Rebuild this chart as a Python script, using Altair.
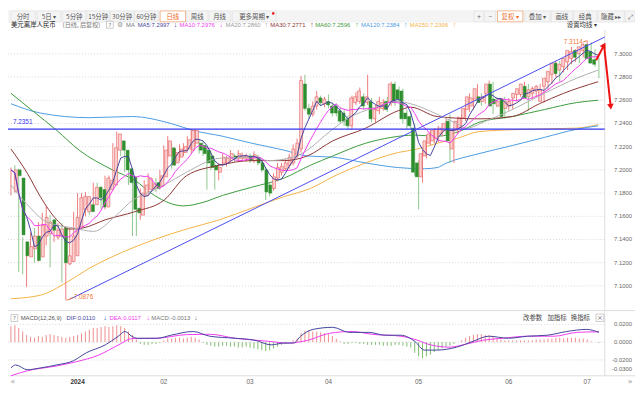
import altair as alt
import pandas as pd

# ---------------- data ----------------
opens = [7.181, 7.200, 7.193, 7.138, 7.125, 7.132, 7.143, 7.125, 7.143, 7.145,
         7.157, 7.142, 7.143, 7.150, 7.119, 7.121, 7.126, 7.151, 7.166, 7.164,
         7.170, 7.170, 7.185, 7.183, 7.168, 7.183, 7.187, 7.217, 7.225, 7.217,
         7.201, 7.194, 7.167, 7.161, 7.178, 7.183, 7.184, 7.189, 7.186, 7.194,
         7.212, 7.219, 7.206, 7.211, 7.215, 7.218, 7.217, 7.223, 7.223, 7.221,
         7.217, 7.212, 7.204, 7.198, 7.206, 7.206, 7.210, 7.212, 7.210, 7.210,
         7.210, 7.212, 7.208, 7.211, 7.206, 7.200, 7.187, 7.184, 7.193, 7.198,
         7.201, 7.204, 7.206, 7.212, 7.218, 7.274, 7.253, 7.248, 7.255, 7.262,
         7.257, 7.259, 7.255, 7.255, 7.251, 7.249, 7.244, 7.238, 7.258, 7.259,
         7.263, 7.258, 7.259, 7.244, 7.251, 7.253, 7.259, 7.258, 7.274, 7.269,
         7.268, 7.249, 7.246, 7.236, 7.206, 7.194, 7.212, 7.223, 7.225, 7.227,
         7.231, 7.234, 7.242, 7.218, 7.234, 7.236, 7.245, 7.252, 7.255, 7.261,
         7.263, 7.259, 7.266, 7.274, 7.261, 7.255, 7.261, 7.253, 7.255, 7.262,
         7.265, 7.265, 7.272, 7.263, 7.266, 7.268, 7.259, 7.272, 7.276, 7.282,
         7.292, 7.286, 7.289, 7.293, 7.296, 7.303, 7.300, 7.303, 7.308, 7.302,
         7.295]
highs = [7.202, 7.204, 7.201, 7.142, 7.138, 7.146, 7.150, 7.155, 7.163, 7.169,
         7.161, 7.152, 7.154, 7.154, 7.130, 7.150, 7.164, 7.180, 7.180, 7.181,
         7.174, 7.189, 7.189, 7.186, 7.195, 7.195, 7.223, 7.233, 7.227, 7.218,
         7.206, 7.198, 7.171, 7.184, 7.191, 7.197, 7.191, 7.193, 7.200, 7.221,
         7.229, 7.223, 7.218, 7.222, 7.223, 7.229, 7.235, 7.235, 7.227, 7.225,
         7.220, 7.217, 7.208, 7.206, 7.214, 7.212, 7.217, 7.214, 7.217, 7.215,
         7.214, 7.214, 7.216, 7.213, 7.209, 7.202, 7.189, 7.197, 7.206, 7.206,
         7.210, 7.214, 7.222, 7.227, 7.281, 7.282, 7.257, 7.259, 7.268, 7.264,
         7.263, 7.265, 7.258, 7.257, 7.254, 7.252, 7.247, 7.264, 7.267, 7.271,
         7.266, 7.282, 7.262, 7.256, 7.263, 7.261, 7.263, 7.276, 7.276, 7.272,
         7.270, 7.252, 7.251, 7.240, 7.208, 7.217, 7.229, 7.234, 7.236, 7.238,
         7.240, 7.244, 7.248, 7.237, 7.246, 7.248, 7.257, 7.266, 7.265, 7.274,
         7.266, 7.267, 7.277, 7.276, 7.263, 7.262, 7.263, 7.262, 7.263, 7.269,
         7.273, 7.276, 7.274, 7.272, 7.273, 7.274, 7.272, 7.281, 7.287, 7.294,
         7.294, 7.293, 7.298, 7.306, 7.304, 7.306, 7.309, 7.3114, 7.310, 7.304,
         7.297]
lows = [7.178, 7.191, 7.112, 7.110, 7.099, 7.130, 7.120, 7.121, 7.140, 7.135,
        7.116, 7.138, 7.140, 7.103, 7.0876, 7.118, 7.121, 7.149, 7.162, 7.160,
        7.161, 7.167, 7.174, 7.166, 7.166, 7.178, 7.184, 7.212, 7.212, 7.198,
        7.187, 7.143, 7.143, 7.157, 7.176, 7.180, 7.182, 7.181, 7.183, 7.191,
        7.210, 7.201, 7.204, 7.208, 7.212, 7.216, 7.214, 7.220, 7.214, 7.212,
        7.183, 7.200, 7.183, 7.191, 7.203, 7.203, 7.207, 7.207, 7.207, 7.207,
        7.207, 7.206, 7.206, 7.204, 7.198, 7.174, 7.177, 7.182, 7.190, 7.195,
        7.199, 7.201, 7.204, 7.210, 7.215, 7.251, 7.244, 7.246, 7.252, 7.255,
        7.254, 7.253, 7.246, 7.246, 7.240, 7.238, 7.235, 7.235, 7.256, 7.257,
        7.252, 7.256, 7.241, 7.241, 7.248, 7.251, 7.250, 7.255, 7.255, 7.258,
        7.240, 7.235, 7.235, 7.195, 7.166, 7.189, 7.210, 7.221, 7.223, 7.224,
        7.229, 7.231, 7.206, 7.206, 7.231, 7.234, 7.242, 7.250, 7.252, 7.258,
        7.255, 7.257, 7.263, 7.248, 7.254, 7.252, 7.244, 7.251, 7.252, 7.259,
        7.263, 7.263, 7.251, 7.261, 7.263, 7.265, 7.258, 7.269, 7.274, 7.280,
        7.276, 7.284, 7.286, 7.291, 7.293, 7.292, 7.297, 7.301, 7.293, 7.289,
        7.279]
closes = [7.200, 7.195, 7.144, 7.126, 7.134, 7.143, 7.122, 7.152, 7.159, 7.155,
          7.148, 7.148, 7.149, 7.120, 7.126, 7.143, 7.159, 7.176, 7.177, 7.177,
          7.164, 7.185, 7.176, 7.168, 7.193, 7.191, 7.219, 7.231, 7.217, 7.200,
          7.189, 7.166, 7.163, 7.180, 7.187, 7.193, 7.188, 7.184, 7.195, 7.217,
          7.225, 7.204, 7.215, 7.218, 7.220, 7.226, 7.234, 7.234, 7.217, 7.214,
          7.206, 7.202, 7.200, 7.202, 7.211, 7.210, 7.214, 7.210, 7.214, 7.212,
          7.212, 7.208, 7.213, 7.206, 7.200, 7.181, 7.180, 7.194, 7.202, 7.203,
          7.206, 7.211, 7.218, 7.223, 7.277, 7.253, 7.248, 7.255, 7.263, 7.258,
          7.261, 7.256, 7.249, 7.249, 7.242, 7.242, 7.238, 7.262, 7.263, 7.268,
          7.255, 7.263, 7.244, 7.252, 7.259, 7.258, 7.252, 7.274, 7.258, 7.261,
          7.244, 7.244, 7.238, 7.198, 7.194, 7.214, 7.225, 7.231, 7.234, 7.235,
          7.236, 7.240, 7.225, 7.234, 7.242, 7.245, 7.253, 7.263, 7.262, 7.270,
          7.258, 7.263, 7.274, 7.255, 7.257, 7.259, 7.246, 7.259, 7.259, 7.266,
          7.270, 7.274, 7.262, 7.269, 7.270, 7.272, 7.269, 7.279, 7.285, 7.292,
          7.283, 7.291, 7.296, 7.303, 7.302, 7.297, 7.306, 7.308, 7.296, 7.292,
          7.291]

month_labels = ["2024", "02", "03", "04", "05", "06", "07"]
month_start_idx = [17, 39, 61, 81, 104, 127, 147]

ma20_idx = [0, 4.2, 9.2, 15.9, 21.1, 26.6, 31.1, 34.8, 39.1, 44.8, 53.2, 61.4, 65.7, 72.1,
            75.6, 80.6, 86.3, 92.0, 98.8, 102.0, 108.7, 113.7, 116.2, 121.1, 127.9, 136.1, 144.3, 149.8]
ma20_val = [7.187, 7.170, 7.155, 7.150, 7.147, 7.160, 7.174, 7.180, 7.187, 7.198, 7.210, 7.211, 7.208, 7.211,
            7.217, 7.231, 7.245, 7.253, 7.259, 7.257, 7.248, 7.240, 7.236, 7.242, 7.252, 7.266, 7.279, 7.286]
ma30_idx = [0, 4.2, 7.5, 11.7, 14.9, 18.4, 24.1, 31.6, 39.1, 44.8, 53.2, 61.4, 69.7, 75.6,
            82.1, 90.5, 98.8, 102.0, 108.7, 119.4, 127.9, 134.8, 141.0, 149.8]
ma30_val = [7.218, 7.197, 7.177, 7.157, 7.149, 7.150, 7.157, 7.164, 7.174, 7.195, 7.204, 7.208, 7.208, 7.212,
            7.225, 7.236, 7.251, 7.254, 7.246, 7.244, 7.246, 7.257, 7.266, 7.276]
ma60_idx = [0, 5.5, 11.7, 17.4, 25.9, 31.6, 36.6, 44.0, 49.0, 54.0, 61.4, 69.7, 76.4, 82.1,
            90.5, 97.0, 103.0, 108.7, 115.0, 119.4, 127.9, 136.1, 144.3, 149.8]
ma60_val = [7.266, 7.251, 7.234, 7.217, 7.200, 7.191, 7.178, 7.169, 7.172, 7.178, 7.185, 7.193, 7.204, 7.212,
            7.223, 7.228, 7.230, 7.229, 7.234, 7.241, 7.246, 7.252, 7.258, 7.260]
ma120_idx = [0, 7.5, 19.9, 30.8, 40.8, 46.5, 54.0, 61.4, 69.7, 75.6, 82.1, 90.5, 98.8, 105.5,
             108.7, 111.2, 119.4, 127.9, 136.1, 144.3, 149.8]
ma120_val = [7.257, 7.249, 7.245, 7.246, 7.240, 7.234, 7.229, 7.223, 7.217, 7.212, 7.211, 7.206, 7.202, 7.201,
             7.202, 7.206, 7.214, 7.221, 7.228, 7.235, 7.238]
ma250_idx = [0, 7.5, 14.2, 19.9, 28.4, 36.6, 44.8, 53.2, 61.4, 69.7, 76.4, 82.1, 90.5, 98.8,
             103.7, 108.7, 113.7, 119.4, 131.8, 144.3, 149.8]
ma250_val = [7.089, 7.092, 7.103, 7.115, 7.129, 7.140, 7.149, 7.157, 7.167, 7.177, 7.184, 7.194, 7.206, 7.215,
             7.218, 7.223, 7.227, 7.233, 7.235, 7.236, 7.239]

dif_idx = [0, 1.2, 4.2, 7.5, 11.7, 15.9, 19.2, 24.1, 27.4, 29.1, 30.8, 32.3, 37.3, 40.8, 46.5, 50.7,
           57.2, 62.2, 66.4, 69.7, 72.1, 73.9, 77.1, 82.1, 86.3, 91.3, 95.5, 99.5, 103.0, 105.5,
           108.7, 113.7, 117.9, 121.9, 126.9, 131.8, 136.8, 141.8, 146.8, 150.0]
dif_val = [-0.0289, -0.0256, -0.031, -0.029, -0.0256, -0.021, -0.012, -0.003, 0.0067, 0.012, 0.0067,
           0.0044, 0.0044, 0.0078, 0.012, 0.0067, 0.0044, 0.0022, -0.003, -0.001, -0.001, 0.0067,
           0.0144, 0.0167, 0.011, 0.011, 0.0078, 0.0078, 0.001, -0.0089, -0.0089, -0.0056, 0.001,
           0.0067, 0.0044, 0.0067, 0.0078, 0.012, 0.0144, 0.011]
dea_idx = [0, 4.2, 11.7, 16.7, 22.4, 27.9, 30.8, 37.3, 44.8, 50.7, 57.2, 65.7, 70.6, 75.6, 81.3,
           87.1, 92.0, 99.5, 103.7, 107.0, 111.9, 115.4, 120.4, 125.4, 131.8, 138.6, 144.3, 150.0]
dea_val = [-0.0378, -0.0322, -0.0267, -0.022, -0.0145, -0.002, 0.004, 0.0044, 0.0085, 0.0089, 0.0044,
           0.001, -0.001, 0.002, 0.010, 0.012, 0.0089, 0.0067, 0.0022, -0.003, -0.0056, -0.003,
           0.0022, 0.0044, 0.0067, 0.0067, 0.011, 0.0117]
macd_hist = [0.018, 0.019, 0.016, 0.012, 0.008,
             0.006, 0.005, 0.007, 0.006, 0.008, 0.009, 0.008, 0.007, 0.006, 0.005, 0.006, 0.007, 0.008,
             0.010, 0.012,
             0.014, 0.016, 0.016, 0.017, 0.018, 0.017, 0.018, 0.019, 0.018, 0.016,
             0.012, 0.008, 0.003,
             -0.002, -0.003, -0.003, -0.002, -0.002, -0.001,
             0.002, 0.004, 0.004, 0.005, 0.005, 0.004, 0.005, 0.006, 0.005, 0.003,
             -0.001, -0.003, -0.004, -0.005, -0.005, -0.004, -0.004, -0.005, -0.005, -0.006, -0.006,
             -0.005, -0.006, -0.007, -0.008, -0.009, -0.010,
             -0.009, -0.007, -0.005, -0.003, -0.002, 0.000, 0.002,
             0.004, 0.010, 0.013, 0.013, 0.012, 0.012, 0.011,
             0.010, 0.009, 0.007, 0.004, 0.001,
             -0.002, -0.002, -0.001, -0.001, -0.002, -0.002, -0.003, -0.003, -0.003,
             -0.003, -0.004, -0.004, -0.004, -0.003, -0.003, -0.004, -0.005, -0.006,
             -0.012, -0.016, -0.018, -0.016, -0.014, -0.011,
             -0.009, -0.007, -0.005, -0.004,
             -0.002, 0.000, 0.002,
             0.005, 0.007, 0.008, 0.009, 0.009, 0.008, 0.008, 0.007,
             0.004, 0.003, 0.002, 0.002, 0.002, 0.002, 0.002, 0.002,
             0.002, 0.002, 0.003, 0.003, 0.003, 0.004,
             0.004, 0.005, 0.005, 0.004, 0.005, 0.005, 0.005, 0.004, 0.004, 0.003,
             0.001, 0.000, -0.001]

price_ticks = [7.30, 7.28, 7.26, 7.24, 7.22, 7.20, 7.18, 7.16, 7.14, 7.12, 7.10]
macd_ticks = [0.02, 0.0, -0.02, -0.03]
macd_grid = [0.02, 0.0, -0.02]
level_value = 7.2351
trend_idx = [15.0, 151.5]
trend_val = [7.0885, 7.3145]
arrow_up_idx = [149.3, 151.3]
arrow_up_val = [7.2945, 7.3075]
arrow_down_idx = [151.3, 153.0]
arrow_down_val = [7.3075, 7.2545]

ma_header = [("MA5:7.2997", "↓"), ("MA10:7.2976", "↓"), ("MA20:7.2860", "↑"), ("MA30:7.2771", "↑"),
             ("MA60:7.2596", "↑"), ("MA120:7.2384", "↑"), ("MA250:7.2396", "↑")]
macd_header = [("DIF:0.0110", "↓"), ("DEA:0.0117", "↓"), ("MACD:-0.0013", "↓")]

# ---------------- styles / layout ----------------
W, H = 635, 386
KX = W / 643.0
CJK = "Noto Sans CJK SC"
SANS = "Liberation Sans"
C_MA5, C_MA10, C_MA20, C_MA30 = "#44449c", "#f03cf0", "#b0b0b0", "#8e3535"
C_MA60, C_MA120, C_MA250 = "#3c9a3c", "#4b9be3", "#f5b246"
UP_FILL, UP_LINE, UP_WICK = "#fbd0d0", "#e35b5b", "#ee7b7b"
DN_FILL, DN_WICK = "#2f8f2f", "#8cc78c"


def px(x):
    return round(x * KX, 2)


XS = alt.Scale(domain=[-0.746, 151.49], range=[0, px(612)], nice=False, zero=False)
PS = alt.Scale(domain=[7.087, 7.3187], range=[294.3, 22.0], nice=False, zero=False)
MS = alt.Scale(domain=[-0.0378, 0.0344], range=[370.0, 305.0], nice=False, zero=False)


def xi(f="i"):
    return alt.X(f"{f}:Q", scale=XS, axis=None)


def yp(f):
    return alt.Y(f"{f}:Q", scale=PS, axis=None)


def ym(f):
    return alt.Y(f"{f}:Q", scale=MS, axis=None)


def ui_text(rows, font, align="left", weight="normal"):
    d = pd.DataFrame(rows, columns=["x", "y", "t", "c", "s"])
    return alt.Chart(d).mark_text(font=font, align=align, baseline="middle", fontWeight=weight).encode(
        x=alt.X("x:Q", scale=None, axis=None),
        y=alt.Y("y:Q", scale=None, axis=None),
        text="t:N",
        color=alt.Color("c:N", scale=None),
        size=alt.Size("s:Q", scale=None),
    )


def ui_rects(rows, sw=0.6):
    d = pd.DataFrame(rows, columns=["x", "x2", "y", "y2", "f", "s"])
    return alt.Chart(d).mark_rect(strokeWidth=sw).encode(
        x=alt.X("x:Q", scale=None, axis=None), x2="x2:Q",
        y=alt.Y("y:Q", scale=None, axis=None), y2="y2:Q",
        fill=alt.Fill("f:N", scale=None), stroke=alt.Stroke("s:N", scale=None),
    )


def line_df(idx, val):
    return pd.DataFrame({"i": idx, "v": val})


# ---------------- frames ----------------
n = min(len(opens), len(highs), len(lows), len(closes), len(macd_hist))
df = pd.DataFrame({"i": list(range(n)), "o": opens[:n], "h": highs[:n], "l": lows[:n],
                   "c": closes[:n], "hist": macd_hist[:n]})
df["z"] = 0.0
df["up"] = df["c"] >= df["o"]
df["ma5"] = df["c"].rolling(5, min_periods=1).mean()
df["ma10"] = df["c"].rolling(10, min_periods=1).mean()
up = df[df["up"]]
dn = df[~df["up"]]

layers = []

# toolbar
buttons = [("分时", 3, 28, False), ("5日 ▾", 30, 54, False), ("5分钟", 56, 80, False),
           ("15分钟", 81, 104, False), ("30分钟", 105, 129, False), ("60分钟", 130, 154, False),
           ("日线", 156, 182, True), ("周线", 183, 205, False), ("月线", 206, 228, False),
           ("更多周期 ▾", 230, 275, False), ("+", 478, 488, False), ("−", 489, 500, False),
           ("复权 ▾", 502, 528, True), ("叠加 ▾", 530, 556, False), ("画线", 557, 579, False),
           ("经典", 580, 604, False), ("隐藏 ▸▸", 605, 632, False), ("⤢", 633, 643, False)]
rects = [(0, W, 0, 12, "#f4f4f4", "#f4f4f4")]
btxt = []
for label, a, b, sel in buttons:
    rects.append((px(a), px(b), 0.5, 11.5, "#ffffff" if sel else "#f4f4f4", "#f08a4b" if sel else "#dedede"))
    btxt.append((px((a + b) / 2), 6.2, label, "#f06a1e" if sel else "#555555", 6.5))
layers.append(ui_rects(rects))
layers.append(ui_text(btxt, CJK, align="center"))
layers.append(alt.Chart(pd.DataFrame({"x": [px(272)], "y": [3.0]})).mark_circle(size=7, color="#ee2222", opacity=1).encode(
    x=alt.X("x:Q", scale=None, axis=None), y=alt.Y("y:Q", scale=None, axis=None)))

# frame / separators
sep = pd.DataFrame({"x": [0.0, 0.0, px(612)], "x2": [W, W, px(612)], "y": [304.0, 370.0, 20.0], "y2": [304.0, 370.0, 370.0]})
layers.append(alt.Chart(sep).mark_rule(color="#dddddd", strokeWidth=1).encode(
    x=alt.X("x:Q", scale=None, axis=None), x2="x2:Q", y=alt.Y("y:Q", scale=None, axis=None), y2="y2:Q"))

# gridlines
grid_p = pd.DataFrame({"v": price_ticks, "lab": [f"{v:.4f}" for v in price_ticks]})
layers.append(alt.Chart(grid_p).mark_rule(color="#d6d6d6", strokeDash=[1, 2], strokeWidth=1).encode(
    x=alt.value(0), x2=alt.value(px(612)), y=yp("v")))
grid_m = pd.DataFrame({"v": macd_grid})
layers.append(alt.Chart(grid_m).mark_rule(color="#d6d6d6", strokeDash=[1, 2], strokeWidth=1).encode(
    x=alt.value(0), x2=alt.value(px(612)), y=ym("v")))

# long moving averages (behind candles)
for idx, val, col in [(ma250_idx, ma250_val, C_MA250), (ma120_idx, ma120_val, C_MA120), (ma60_idx, ma60_val, C_MA60)]:
    layers.append(alt.Chart(line_df(idx, val)).mark_line(color=col, strokeWidth=1, interpolate="monotone").encode(
        x=xi(), y=yp("v")))

# candles
layers.append(alt.Chart(dn).mark_rule(color=DN_WICK, strokeWidth=1).encode(x=xi(), y=yp("l"), y2="h:Q"))
layers.append(alt.Chart(up).mark_rule(color=UP_WICK, strokeWidth=1).encode(x=xi(), y=yp("l"), y2="h:Q"))
layers.append(alt.Chart(dn).mark_bar(size=3, color=DN_FILL, stroke=DN_FILL, strokeWidth=0.5).encode(
    x=xi(), y=yp("o"), y2="c:Q"))
layers.append(alt.Chart(up).mark_bar(size=3, color=UP_FILL, stroke=UP_LINE, strokeWidth=0.6).encode(
    x=xi(), y=yp("o"), y2="c:Q"))

# short moving averages
for idx, val, col in [(ma30_idx, ma30_val, C_MA30), (ma20_idx, ma20_val, C_MA20)]:
    layers.append(alt.Chart(line_df(idx, val)).mark_line(color=col, strokeWidth=1, interpolate="monotone").encode(
        x=xi(), y=yp("v")))
layers.append(alt.Chart(df).mark_line(color=C_MA10, strokeWidth=1).encode(x=xi(), y=yp("ma10")))
layers.append(alt.Chart(df).mark_line(color=C_MA5, strokeWidth=1).encode(x=xi(), y=yp("ma5")))

# horizontal level and trend line
layers.append(alt.Chart(pd.DataFrame({"v": [level_value]})).mark_rule(color="#3434f5", strokeWidth=1.2).encode(
    x=alt.value(0), x2=alt.value(px(612)), y=yp("v")))
layers.append(alt.Chart(pd.DataFrame({"v": [level_value], "t": [f"{level_value:.4f}"]})).mark_text(
    font=SANS, fontSize=6.5, color="#3434f5", align="left", baseline="middle", dy=-7).encode(
    x=alt.value(px(5)), y=yp("v"), text="t:N"))
layers.append(alt.Chart(line_df(trend_idx, trend_val)).mark_line(color="#4a4af0", strokeWidth=1).encode(
    x=xi(), y=yp("v")))

# high / low markers
lo_i = int(df["l"].idxmin())
hi_i = int(df["h"].idxmax())
lo_v = float(df["l"].min())
hi_v = float(df["h"].max())
layers.append(alt.Chart(pd.DataFrame({"i": [lo_i + 0.2], "i2": [lo_i + 1.9], "v": [lo_v], "v2": [lo_v + 0.0025]})).mark_rule(
    color="#f07a3a", strokeWidth=1).encode(x=xi(), x2="i2:Q", y=yp("v"), y2="v2:Q"))
layers.append(alt.Chart(pd.DataFrame({"i": [lo_i + 2.0], "v": [lo_v + 0.0028], "t": [f"{lo_v:.4f}"]})).mark_text(
    font=SANS, fontSize=6.5, color="#f07a3a", align="left", baseline="middle").encode(x=xi(), y=yp("v"), text="t:N"))
layers.append(alt.Chart(pd.DataFrame({"i": [hi_i - 1.0], "i2": [hi_i - 0.1], "v": [hi_v - 0.0012], "v2": [hi_v]})).mark_rule(
    color="#f07a3a", strokeWidth=1).encode(x=xi(), x2="i2:Q", y=yp("v"), y2="v2:Q"))
layers.append(alt.Chart(pd.DataFrame({"i": [hi_i - 1.1], "v": [hi_v - 0.0012], "t": [f"{hi_v:.4f}"]})).mark_text(
    font=SANS, fontSize=6.5, color="#f07a3a", align="right", baseline="middle").encode(x=xi(), y=yp("v"), text="t:N"))

# red arrows
for idx, val in [(arrow_up_idx, arrow_up_val), (arrow_down_idx, arrow_down_val)]:
    layers.append(alt.Chart(line_df(idx, val)).mark_line(color="#ee1111", strokeWidth=2).encode(x=xi(), y=yp("v")))
layers.append(alt.Chart(pd.DataFrame({"i": [arrow_up_idx[1]], "v": [arrow_up_val[1]]})).mark_point(
    shape="triangle-up", filled=True, size=45, angle=30, color="#ee1111", opacity=1).encode(x=xi(), y=yp("v")))
layers.append(alt.Chart(pd.DataFrame({"i": [arrow_down_idx[1]], "v": [arrow_down_val[1]]})).mark_point(
    shape="triangle-down", filled=True, size=45, angle=354, color="#ee1111", opacity=1).encode(x=xi(), y=yp("v")))

# MACD
pos = df[df["hist"] >= 0]
neg = df[df["hist"] < 0]
layers.append(alt.Chart(pos).mark_rule(color="#f08c8c", strokeWidth=1).encode(x=xi(), y=ym("z"), y2="hist:Q"))
layers.append(alt.Chart(neg).mark_rule(color="#7dbb6e", strokeWidth=1).encode(x=xi(), y=ym("z"), y2="hist:Q"))
layers.append(alt.Chart(line_df(dea_idx, dea_val)).mark_line(color=C_MA10, strokeWidth=1, interpolate="monotone").encode(
    x=xi(), y=ym("v")))
layers.append(alt.Chart(line_df(dif_idx, dif_val)).mark_line(color=C_MA5, strokeWidth=1, interpolate="monotone").encode(
    x=xi(), y=ym("v")))

# right axis labels
layers.append(alt.Chart(grid_p).mark_text(font=SANS, fontSize=6, color="#666666", align="right", baseline="middle").encode(
    x=alt.value(px(640)), y=yp("v"), text="lab:N"))
mlab = pd.DataFrame({"v": macd_ticks, "lab": [f"{v:.4f}" for v in macd_ticks]})
layers.append(alt.Chart(mlab).mark_text(font=SANS, fontSize=6, color="#666666", align="right", baseline="middle").encode(
    x=alt.value(px(640)), y=ym("v"), text="lab:N"))

# header row
HY = 14.5
head_cjk = [(px(3), HY, "美元离岸人民币", "#222222", 6.5), (px(56), HY, "(日线, 后复权)", "#777777", 6.2),
            (px(573), HY, "设置均线 ▾", "#333333", 6.5)]
layers.append(ui_text(head_cjk, CJK))
ma_cols = [C_MA5, C_MA10, "#999999", C_MA30, C_MA60, C_MA120, C_MA250]
ma_x = [133, 176, 223, 269, 315, 362, 412]
ma_ax = [170, 217, 263, 310, 356, 406, 456]
head_sans = [(px(121), HY, "MA", "#777777", 6)]
for (lab, arr), col, a, b in zip(ma_header, ma_cols, ma_x, ma_ax):
    head_sans.append((px(a), HY, lab, col, 6))
    head_sans.append((px(b), HY, arr, col, 7))
layers.append(ui_text(head_sans, SANS))
boxes = [(px(101), px(108), 11, 18, "#ffffff", "#aaaaaa"), (px(3), px(10), 308, 315, "#ffffff", "#aaaaaa"),
         (px(603), px(611), 307.5, 315, "#ffffff", "#aaaaaa")]
layers.append(ui_rects(boxes))
icons = [(px(104.5), HY, "?", "#777777", 5.5), (px(115), HY, "⚙", "#999999", 7),
         (px(6.5), 311.5, "?", "#777777", 5.5), (px(607), 311.3, "×", "#777777", 7)]
layers.append(ui_text(icons, "DejaVu Sans", align="center"))

# MACD header
MY = 311.5
mh = [(px(13), MY, "MACD(12,26,9)", "#555555", 6)]
for (lab, arr), col, a, b in zip(macd_header, [C_MA5, C_MA10, "#777777"], [60, 104, 147], [98, 142, 191]):
    mh.append((px(a), MY, lab, col, 6))
    mh.append((px(b), MY, arr, col, 7))
layers.append(ui_text(mh, SANS))
layers.append(ui_text([(px(538), MY, "改参数", "#444444", 6.5), (px(563), MY, "加指标", "#444444", 6.5),
                       (px(587), MY, "换指标", "#444444", 6.5)], CJK, align="center"))

# x axis (month labels)
XY = 376.5
mdf = pd.DataFrame({"i": month_start_idx, "t": month_labels})
layers.append(alt.Chart(mdf.iloc[:1]).mark_text(font=SANS, fontSize=6.5, fontWeight="bold", color="#333333",
                                                baseline="middle").encode(x=xi(), y=alt.value(XY), text="t:N"))
layers.append(alt.Chart(mdf.iloc[1:]).mark_text(font=SANS, fontSize=6.5, color="#666666",
                                                baseline="middle").encode(x=xi(), y=alt.value(XY), text="t:N"))
layers.append(ui_text([(px(5), XY, "«", "#999999", 8), (px(638), XY, "»", "#999999", 8)], "DejaVu Sans", align="center"))

chart = alt.layer(*layers).resolve_scale(x="independent", y="independent").properties(
    width=W, height=H, autosize=alt.AutoSizeParams(type="none"), padding=0, background="#ffffff"
).configure_view(stroke=None)

chart.save("out.html", embed_options={"renderer": "svg", "actions": False})
